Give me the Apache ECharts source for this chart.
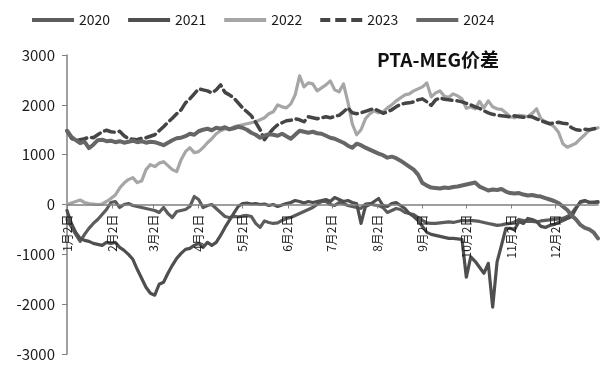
<!DOCTYPE html>
<html>
<head>
<meta charset="utf-8">
<script src="https://cdn.jsdelivr.net/npm/echarts@6/dist/echarts.min.js"></script>
<style>html,body{margin:0;padding:0;background:#fff}#c{width:610px;height:372px}</style>
</head>
<body>
<div id="c"></div>
<script>
// Categories: daily dates 1月2日 .. 12月31日
var monthDays = [31,28,31,30,31,30,31,31,30,31,30,31];
var categories = [];
for (var m = 0; m < 12; m++) {
  for (var d = 1; d <= monthDays[m]; d++) {
    if (m === 0 && d === 1) continue;
    categories.push((m + 1) + '月' + d + '日');
  }
}
var STEP = 3; // values below are read every 3 days
var yTicks = [-3000, -2000, -1000, 0, 1000, 2000, 3000];
var seriesNames = ['2020', '2021', '2022', '2023', '2024'];

var v2020 = [-300,-450,-600,-740,-600,-480,-380,-300,-200,-100,40,60,-60,0,20,-20,-40,-60,-80,-100,
-120,-160,-60,-180,-260,-140,-120,-100,-40,160,100,-60,-20,0,-80,-160,-240,-260,-240,-250,
-230,-220,-240,-380,-460,-330,-360,-380,-370,-320,-280,-260,-220,-180,-140,-100,-60,0,60,60,
0,-20,40,20,-20,-40,-60,-80,10,20,-10,-20,-60,-160,-120,-80,-100,-160,-180,-200,
-260,-320,-370,-380,-380,-370,-360,-350,-360,-340,-320,-330,-320,-330,-340,-360,-380,-400,-420,-410,
-390,-380,-350,-300,-320,-340,-340,-350,-330,-320,-310,-300,-290,-280,-240,-180,-60,40,70,50,40,40];

var v2021 = [-120,-380,-560,-680,-720,-740,-780,-800,-820,-760,-780,-760,-860,-920,-1000,-1100,-1300,-1480,-1660,-1780,
-1820,-1600,-1560,-1380,-1220,-1080,-980,-900,-880,-820,-780,-860,-760,-820,-760,-620,-460,-320,-180,-40,
20,30,10,20,0,10,-20,0,-40,-10,20,40,80,60,30,60,40,60,80,100,
60,140,100,60,80,40,20,-380,-40,0,60,120,-20,-40,20,40,-20,-80,-180,-240,
-320,-440,-560,-600,-620,-640,-660,-680,-680,-690,-700,-1460,-1050,-1140,-1260,-1380,-1180,-2060,-1150,-820,
-480,-480,-500,-340,-380,-280,-300,-340,-440,-460,-420,-400,-360,-320,-280,-240,-80,60,80,40,50,60];

var v2022 = [0,30,60,90,40,20,10,0,10,60,120,190,330,430,500,540,440,470,700,800,
760,830,860,780,700,660,900,1060,1140,1040,1060,1140,1240,1320,1420,1480,1520,1500,1560,1580,
1600,1620,1640,1660,1700,1740,1820,1860,2000,1960,1940,2020,2200,2580,2360,2440,2420,2280,2340,2400,
2480,2300,2260,2420,2060,1620,1400,1500,1720,1820,1880,1840,1860,1940,2000,2080,2140,2200,2220,2280,
2320,2360,2440,2160,2240,2280,2170,2150,2220,2180,2120,1930,1960,1920,2070,1940,2080,1960,1920,1910,
1840,1760,1740,1790,1780,1760,1830,1920,1720,1660,1620,1560,1450,1220,1150,1190,1230,1320,1400,1490,1510,1540];

var v2023 = [1480,1330,1280,1300,1320,1350,1340,1400,1460,1490,1460,1450,1470,1380,1320,1310,1300,1330,1340,1370,
1400,1480,1560,1650,1730,1820,1900,2040,2120,2220,2320,2300,2280,2240,2300,2400,2250,2200,2140,2040,
1940,1860,1780,1650,1500,1300,1420,1520,1600,1640,1680,1690,1720,1700,1660,1760,1740,1720,1740,1760,
1740,1770,1790,1860,1940,1840,1820,1840,1870,1900,1920,1880,1830,1860,1900,1960,2010,2030,2040,2060,
2100,2120,2060,1990,2100,2140,2110,2100,2090,2080,2060,2030,2000,1960,1930,1880,1840,1810,1790,1780,
1770,1760,1780,1760,1750,1770,1760,1720,1680,1650,1620,1640,1650,1630,1620,1540,1500,1490,1510,1500,1520,1540];

var v2024 = [1480,1360,1290,1230,1260,1130,1200,1290,1300,1270,1280,1250,1270,1240,1260,1280,1250,1270,1240,1260,
1250,1220,1190,1240,1290,1330,1340,1370,1420,1400,1470,1500,1520,1490,1540,1520,1550,1510,1530,1560,
1540,1500,1440,1400,1340,1380,1410,1400,1380,1420,1370,1320,1400,1480,1460,1440,1460,1430,1420,1380,
1340,1320,1280,1240,1180,1140,1220,1190,1140,1100,1060,1020,990,940,960,930,880,820,760,700,
600,430,380,340,330,320,340,330,350,360,380,400,420,440,360,320,280,300,290,310,
260,230,220,230,200,180,190,170,160,130,100,70,30,-40,-110,-220,-300,-410,-470,-500,-560,-680];

function toData(vals) {
  return vals.map(function (v, k) { return [categories[k * STEP], v]; });
}

var FONT = '"Noto Sans CJK SC", "Open Sans", sans-serif';
var GRID = {left: 67, right: 12, top: 55, bottom: 18};
var PLOT_H = 372 - GRID.top - GRID.bottom;
var chart = echarts.init(document.getElementById('c'), null, {renderer: 'canvas'});
var styles = {
  '2020': {color: '#5c5c5c', width: 3.2, type: 'solid'},
  '2021': {color: '#4f4f4f', width: 3.2, type: 'solid'},
  '2022': {color: '#a6a6a6', width: 3.2, type: 'solid'},
  '2023': {color: '#454545', width: 3.5, type: [10, 5]},
  '2024': {color: '#666666', width: 4, type: 'solid'}
};
var SOLID_ICON = 'path://M0,0L42,0L42,4L0,4Z';
var DASH_ICON = 'path://M0,0L10,0L10,4L0,4Z M15,0L26,0L26,4L15,4Z M31,0L42,0L42,4L31,4Z';
var valuesByName = {'2020': v2020, '2021': v2021, '2022': v2022, '2023': v2023, '2024': v2024};

function isMonthTick(idx) {
  return /月2日$/.test(categories[idx]);
}

chart.setOption({
  animation: false,
  backgroundColor: '#ffffff',
  textStyle: {fontFamily: FONT},
  title: {
    text: 'PTA-MEG价差',
    left: 372, top: 45,
    textStyle: {fontSize: 19, fontWeight: 'bold', color: '#111', fontFamily: FONT}
  },
  legend: {
    data: seriesNames.map(function (n) {
      return {name: n, icon: styles[n].type === 'solid' ? SOLID_ICON : DASH_ICON,
              itemStyle: {color: styles[n].color, borderWidth: 0}};
    }),
    left: 27, top: 8,
    itemWidth: 42, itemHeight: 4, itemGap: 18,
    textStyle: {fontSize: 14, color: '#1a1a1a', fontFamily: FONT}
  },
  grid: {left: GRID.left, right: GRID.right, top: GRID.top, bottom: GRID.bottom,
         containLabel: false, outerBoundsMode: 'none'},
  xAxis: {
    type: 'category',
    data: categories,
    boundaryGap: false,
    z: 5,
    offset: -PLOT_H / 2,
    axisLine: {onZero: false, lineStyle: {color: '#808080', width: 1.5}},
    axisTick: {show: true, interval: function (i) { return isMonthTick(i); }, length: 4, lineStyle: {color: '#808080'}},
    axisLabel: {
      interval: function (i) { return isMonthTick(i); },
      rotate: 90, margin: 10, fontSize: 12, color: '#1a1a1a', fontFamily: FONT
    },
    splitLine: {show: false}
  },
  yAxis: {
    type: 'value',
    min: yTicks[0], max: yTicks[yTicks.length - 1], interval: 1000,
    axisLine: {show: true, lineStyle: {color: '#808080', width: 1.5}},
    axisTick: {show: true, length: 5, lineStyle: {color: '#808080'}},
    axisLabel: {fontSize: 15, color: '#1a1a1a', margin: 12, fontFamily: FONT,
                formatter: function (v) { return String(v); }},
    splitLine: {show: false}
  },
  series: seriesNames.map(function (n) {
    var s = styles[n];
    return {
      name: n, type: 'line',
      data: toData(valuesByName[n]),
      symbol: 'none', showSymbol: false,
      color: s.color,
      lineStyle: {color: s.color, width: s.width, type: s.type, cap: 'round', join: 'round'},
      itemStyle: {color: s.color}
    };
  })
});
</script>
</body>
</html>
